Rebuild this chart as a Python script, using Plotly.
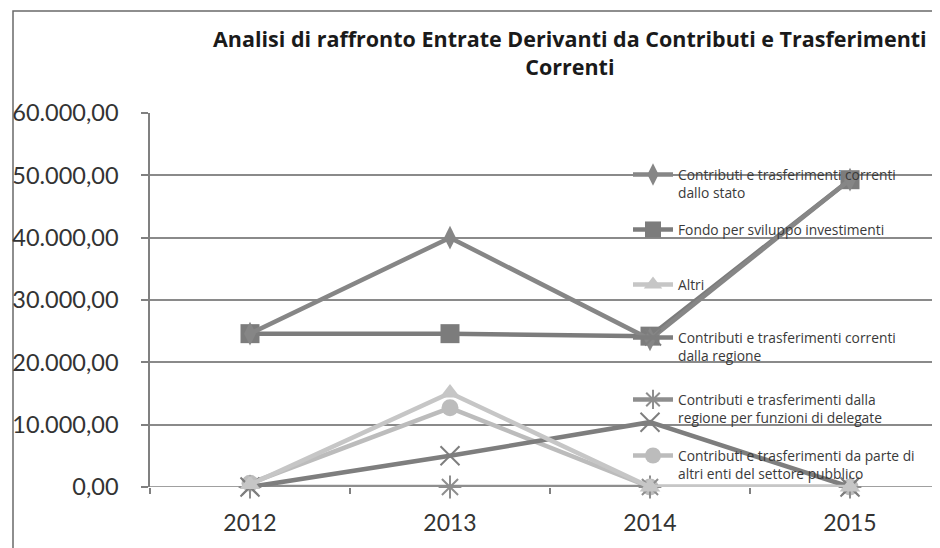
import plotly.graph_objects as go

years = ["2012", "2013", "2014", "2015"]
stato = [24600, 40000, 23700, 49300]
fondo = [24600, 24600, 24200, 49300]
altri = [400, 15100, 0, 0]
regione = [0, 5000, 10400, 0]
delegate = [0, 0, 0, 0]
altri_enti = [600, 12700, 0, 0]

names = [
    "Contributi e trasferimenti correnti<br>dallo stato",
    "Fondo per sviluppo investimenti",
    "Altri",
    "Contributi e trasferimenti correnti<br>dalla regione",
    "Contributi e trasferimenti dalla<br>regione per funzioni di delegate",
    "Contributi e trasferimenti da parte di<br>altri enti del settore pubblico",
]
y_ticks = [0, 10000, 20000, 30000, 40000, 50000, 60000]
y_tick_text = ["0,00", "10.000,00", "20.000,00", "30.000,00", "40.000,00", "50.000,00", "60.000,00"]

series = [stato, fondo, altri, regione, delegate, altri_enti]
colors = ["#868686", "#7c7c7c", "#c6c6c6", "#7e7e7e", "#8e8e8e", "#bcbcbc"]
symbols = ["diamond-tall", "square", "triangle-up", "x-thin-open", "asterisk-open", "circle"]
sizes = [17, 19, 18, 19, 19, 17]

W, H = 940, 548
L, T, B = 142, 105, 479
R = 940
FONT = "Lato, 'Open Sans', sans-serif"
TFONT = "'Open Sans', Lato, sans-serif"


def px_x(px):
    return (px - L) / (R - L)


def px_y(py):
    return (B - py) / (B - T)


fig = go.Figure()
order = [5, 4, 3, 2, 1, 0]
for i in order:
    sym = symbols[i]
    open_sym = sym.endswith("open")
    fig.add_trace(go.Scatter(
        x=years, y=series[i], name=names[i], mode="lines+markers",
        line=dict(color=colors[i], width=4.5),
        marker=dict(symbol=sym, size=sizes[i], color=colors[i],
                    line=dict(color="#5a5a5a" if open_sym else colors[i], width=2 if open_sym else 0)),
        legend="legend" if i == 0 else f"legend{i+1}",
        cliponaxis=False,
    ))

leg_y = [176, 231, 286, 339, 401, 457]
layout_legends = {}
for i, yy in enumerate(leg_y):
    key = "legend" if i == 0 else f"legend{i+1}"
    layout_legends[key] = dict(
        x=px_x(620), xref="paper", xanchor="left",
        y=px_y(yy - 25), yref="paper", yanchor="top",
        bgcolor="rgba(0,0,0,0)", borderwidth=0,
        font=dict(family=TFONT, size=13.8, color="#3a3a3a"),
        itemwidth=40, valign="top",
    )

fig.update_layout(
    width=W, height=H,
    margin=dict(l=L, r=W - R, t=T, b=H - B, autoexpand=False),
    paper_bgcolor="white", plot_bgcolor="white",
    showlegend=True,
    xaxis=dict(
        type="category", range=[-0.5, 3.49], tickson="boundaries",
        ticks="outside", ticklen=6, tickcolor="#808080", tickwidth=1.5,
        showgrid=False, showline=False, zeroline=False,
        tickfont=dict(family=FONT, size=23, color="#333333"),
        ticklabelstandoff=20,
    ),
    yaxis=dict(
        range=[0, 60000], tickvals=y_ticks, ticktext=y_tick_text,
        ticks="outside", ticklen=7, tickcolor="#808080", tickwidth=1.5,
        showgrid=True, gridcolor="#8a8a8a", gridwidth=1.5,
        showline=True, linecolor="#808080", linewidth=1.5,
        zeroline=False,
        tickfont=dict(family=FONT, size=23.5, color="#333333"),
        ticklabelstandoff=18,
    ),
    **layout_legends,
)

fig.add_shape(type="line", xref="paper", yref="y", x0=0, x1=1, y0=0, y1=0,
              line=dict(color="#808080", width=1.5), layer="below")

fig.add_annotation(
    text="<b>Analisi di raffronto Entrate Derivanti da Contributi e Trasferimenti<br>Correnti</b>",
    xref="paper", yref="paper", x=px_x(562), y=px_y(14),
    xanchor="center", yanchor="top", showarrow=False, align="center",
    font=dict(family=TFONT, size=21.5, color="#1a1a1a"),
)

fig.add_shape(type="rect", xref="paper", yref="paper",
              x0=px_x(5), x1=px_x(960),
              y0=px_y(545), y1=px_y(3),
              line=dict(color="#6a6a6a", width=1.5), layer="below")

fig.write_html("out.html")
